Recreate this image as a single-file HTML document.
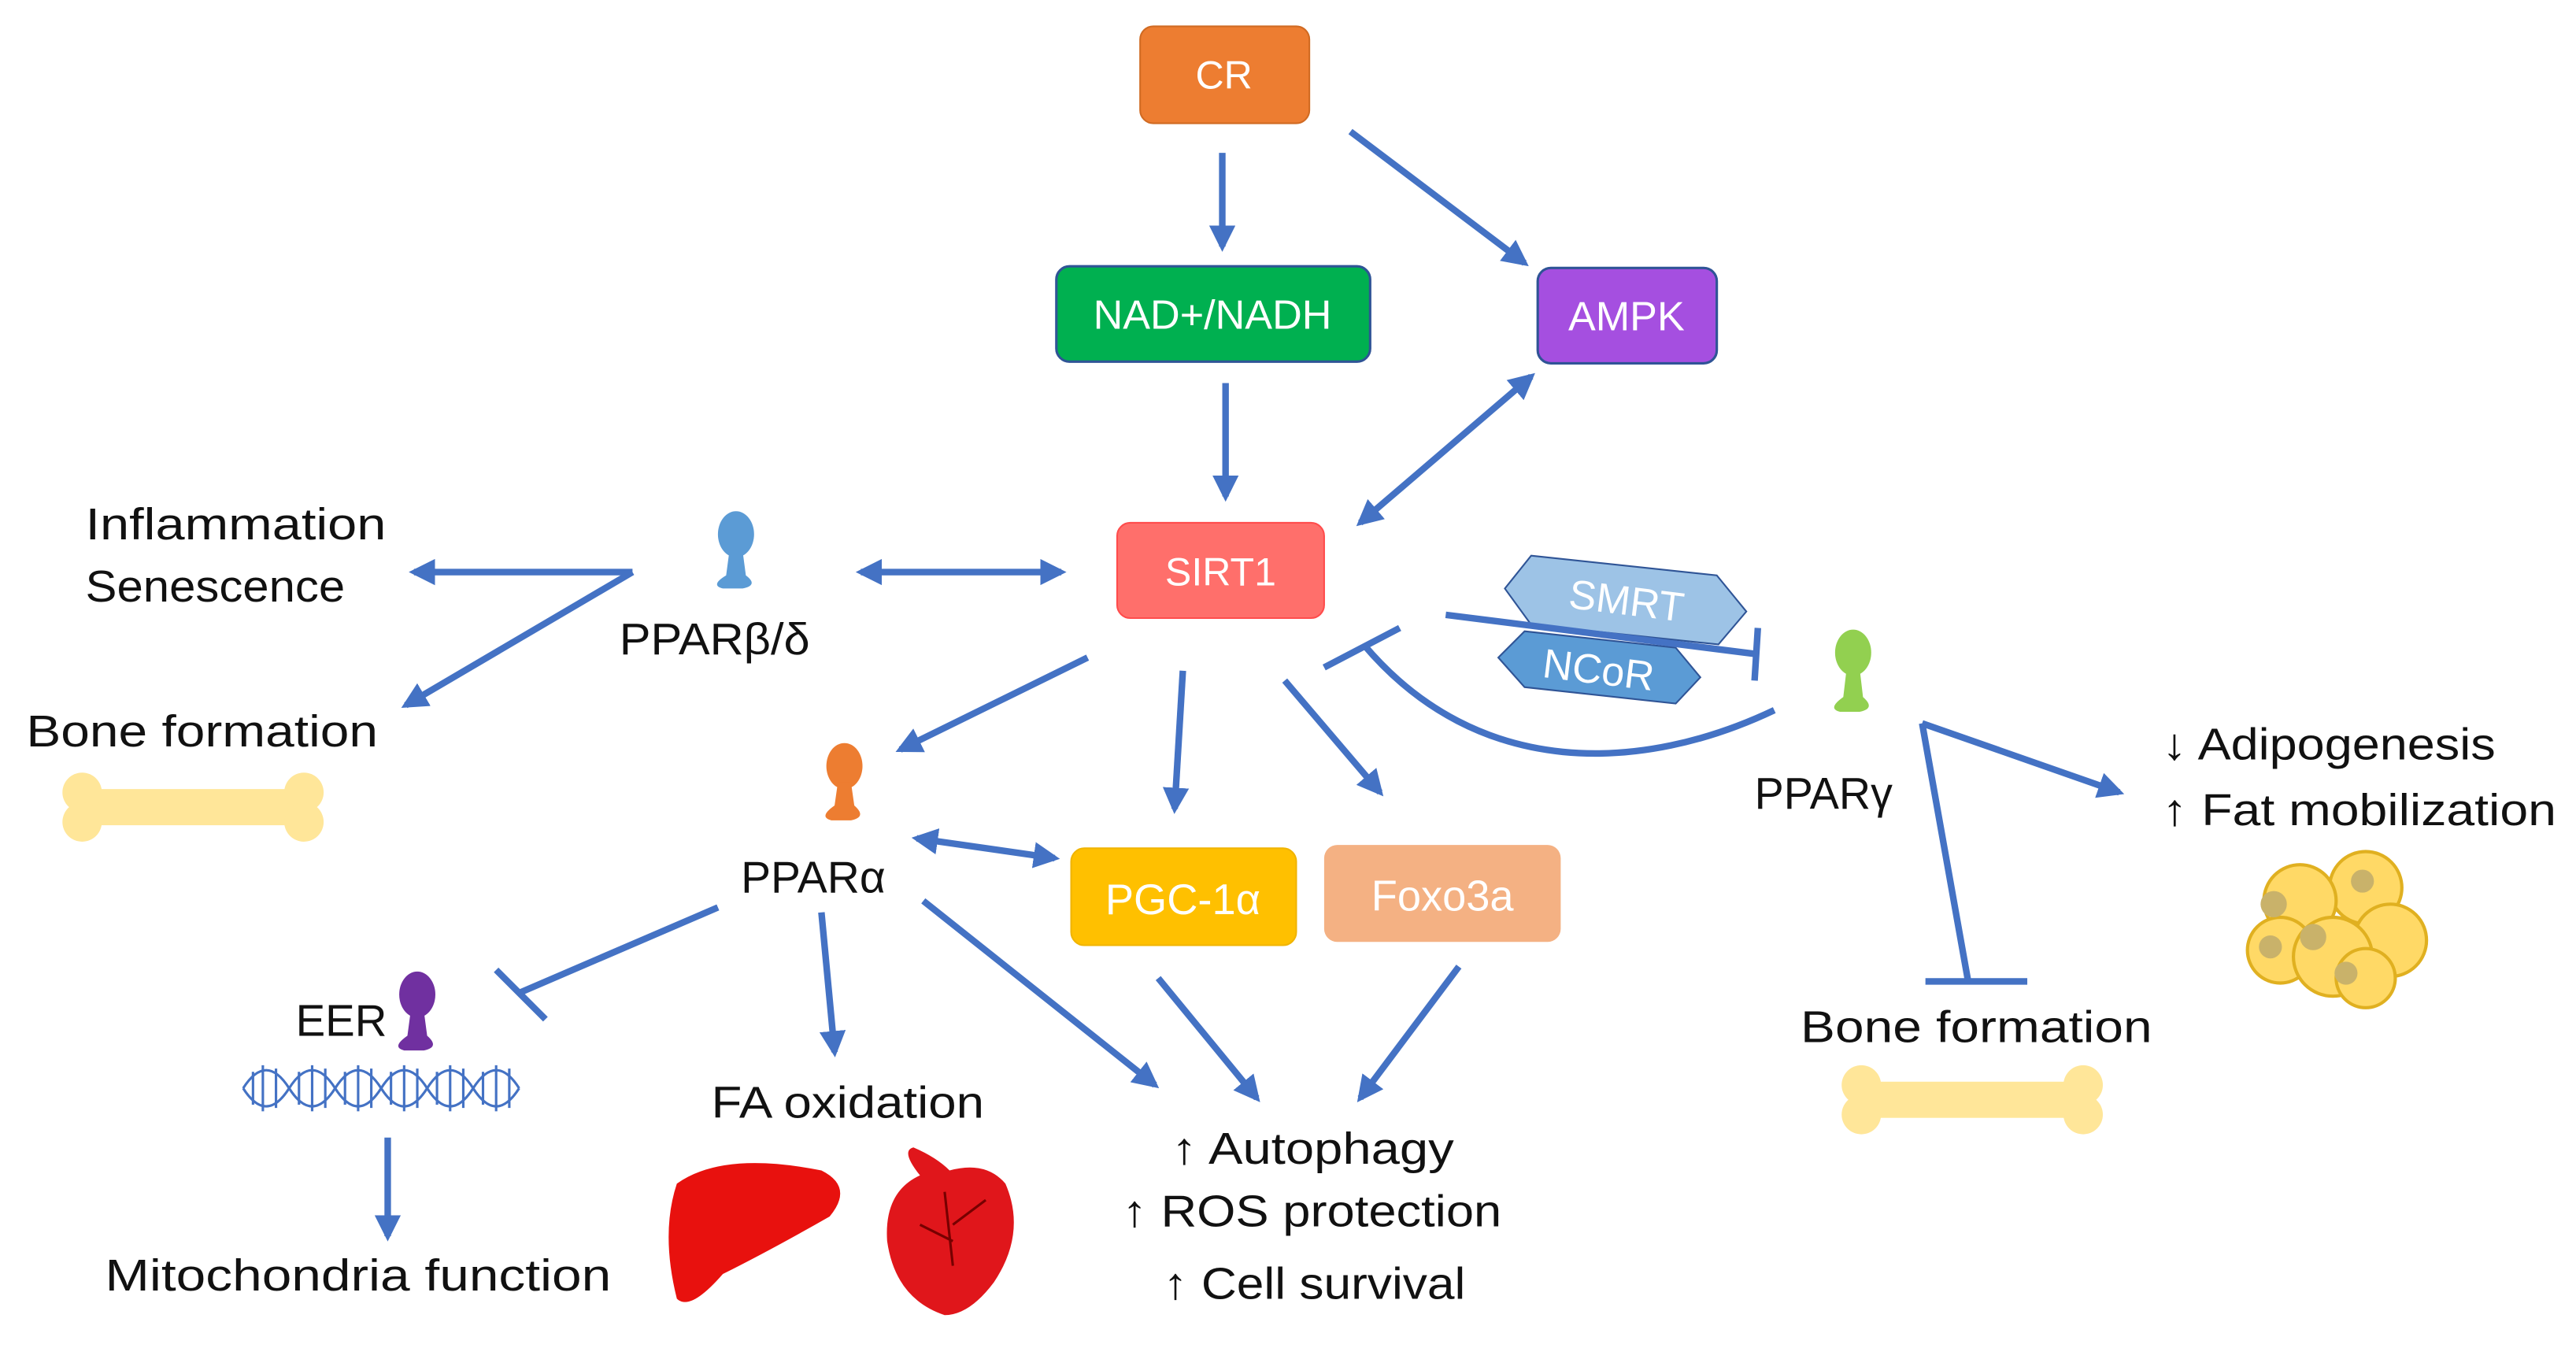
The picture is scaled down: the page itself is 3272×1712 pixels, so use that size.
<!DOCTYPE html>
<html><head><meta charset="utf-8"><style>
html,body{margin:0;padding:0;background:#fff;}
svg{display:block;}
text{font-family:"Liberation Sans",sans-serif;}
</style></head><body>
<svg width="3272" height="1712" viewBox="0 0 1568 820" preserveAspectRatio="none" xmlns="http://www.w3.org/2000/svg">
<defs>
<marker id="a" viewBox="0 0 10 10" refX="8" refY="5" markerWidth="4" markerHeight="4" orient="auto-start-reverse"><path d="M0,0 L10,5 L0,10 z" fill="#4472C4"/></marker>
</defs>
<g stroke="#4472C4" stroke-width="4" fill="none">
<line x1="744" y1="93" x2="744" y2="150" marker-end="url(#a)"/>
<line x1="822" y1="80" x2="928" y2="160" marker-end="url(#a)"/>
<line x1="746" y1="233" x2="746" y2="302" marker-end="url(#a)"/>
<line x1="828" y1="318" x2="932" y2="229" marker-end="url(#a)" marker-start="url(#a)"/>
<line x1="524" y1="348" x2="646" y2="348" marker-end="url(#a)" marker-start="url(#a)"/>
<line x1="385" y1="348" x2="252" y2="348" marker-end="url(#a)"/>
<line x1="385" y1="348" x2="247" y2="429" marker-end="url(#a)"/>
<line x1="662" y1="400" x2="548" y2="456" marker-end="url(#a)"/>
<line x1="720" y1="408" x2="715" y2="492" marker-end="url(#a)"/>
<line x1="782" y1="414" x2="840" y2="482" marker-end="url(#a)"/>
<line x1="1070" y1="382" x2="1068" y2="414"/>
<path d="M1080,432 C1000,470 900,475 830,392"/>
<line x1="806" y1="406" x2="852" y2="382"/>
<line x1="1170" y1="440" x2="1198" y2="597"/>
<line x1="1170" y1="440" x2="1290" y2="482" marker-end="url(#a)"/>
<line x1="1172" y1="597" x2="1234" y2="597"/>
<line x1="558" y1="510" x2="642" y2="522" marker-end="url(#a)" marker-start="url(#a)"/>
<line x1="437" y1="552" x2="316" y2="604"/>
<line x1="302" y1="590" x2="332" y2="620"/>
<line x1="500" y1="555" x2="508" y2="640" marker-end="url(#a)"/>
<line x1="562" y1="548" x2="703" y2="660" marker-end="url(#a)"/>
<line x1="705" y1="595" x2="765" y2="668" marker-end="url(#a)"/>
<line x1="888" y1="588" x2="828" y2="668" marker-end="url(#a)"/>
<line x1="236" y1="692" x2="236" y2="752" marker-end="url(#a)"/>
</g>
<rect x="694" y="16" width="103" height="59" rx="8" fill="#ED7D31" stroke="#d06a22"/>
<text x="745" y="54" font-size="24" fill="#fff" text-anchor="middle">CR</text>
<rect x="643" y="162" width="191" height="58" rx="8" fill="#00B050" stroke="#2f5496" stroke-width="1.5"/>
<text x="738" y="200" font-size="25" fill="#fff" text-anchor="middle">NAD+/NADH</text>
<rect x="936" y="163" width="109" height="58" rx="8" fill="#A54FE0" stroke="#2f5496" stroke-width="1.5"/>
<text x="990" y="201" font-size="25" fill="#fff" text-anchor="middle">AMPK</text>
<rect x="680" y="318" width="126" height="58" rx="8" fill="#FF6F6B" stroke="#ff4c4c"/>
<text x="743" y="356" font-size="24" fill="#fff" text-anchor="middle">SIRT1</text>
<rect x="652" y="516" width="137" height="59" rx="8" fill="#FFC000" stroke="#f0b400"/>
<text x="720" y="556" font-size="26" fill="#fff" text-anchor="middle">PGC-1α</text>
<rect x="806" y="514" width="144" height="59" rx="8" fill="#F4B183"/>
<text x="878" y="554" font-size="26" fill="#fff" text-anchor="middle">Foxo3a</text>
<polygon points="932,338 1045,350 1063,372 1046,392 932,380 916,358" fill="#9DC3E6" stroke="#2f5496" stroke-width="1"/>
<text x="990" y="374" font-size="25" fill="#fff" text-anchor="middle" transform="rotate(7 990 366)">SMRT</text>
<polygon points="928,384 1020,394 1035,412 1020,428 928,418 912,400" fill="#5B9BD5" stroke="#2f5496" stroke-width="1"/>
<text x="973" y="416" font-size="25" fill="#fff" text-anchor="middle" transform="rotate(7 973 408)">NCoR</text>
<line x1="880" y1="374" x2="1070" y2="398" stroke="#4472C4" stroke-width="4"/>
<g>
<ellipse cx="448" cy="325" rx="11" ry="14" fill="#5B9BD5"/><path d="M444,335 L452,335 L454,350 Q462,356 452,358 L440,358 Q432,356 442,350 Z" fill="#5B9BD5"/>
<ellipse cx="514" cy="466" rx="11" ry="14" fill="#ED7D31"/><path d="M510,476 L518,476 L520,490 Q528,497 518,499 L506,499 Q498,497 508,490 Z" fill="#ED7D31"/>
<ellipse cx="254" cy="605" rx="11" ry="14" fill="#7030A0"/><path d="M250,615 L258,615 L260,630 Q268,637 258,639 L246,639 Q238,637 248,630 Z" fill="#7030A0"/>
<ellipse cx="1128" cy="397" rx="11" ry="14" fill="#92D050"/><path d="M1124,407 L1132,407 L1134,424 Q1142,431 1132,433 L1120,433 Q1112,431 1122,424 Z" fill="#92D050"/>
</g>
<g fill="#FFE699">
<rect x="55" y="480" width="125" height="22"/>
<circle cx="50" cy="482" r="12"/><circle cx="50" cy="500" r="12"/><circle cx="185" cy="482" r="12"/><circle cx="185" cy="500" r="12"/>
<rect x="1137" y="658" width="128" height="22"/>
<circle cx="1133" cy="660" r="12"/><circle cx="1133" cy="678" r="12"/><circle cx="1268" cy="660" r="12"/><circle cx="1268" cy="678" r="12"/>
</g>
<g fill="#FFD966" stroke="#E0B020" stroke-width="2">
<circle cx="1440" cy="540" r="22"/><circle cx="1400" cy="548" r="22"/><circle cx="1455" cy="572" r="22"/><circle cx="1388" cy="578" r="20"/><circle cx="1420" cy="582" r="24"/><circle cx="1440" cy="595" r="18"/>
</g>
<g fill="#C9B26A"><circle cx="1384" cy="550" r="8"/><circle cx="1408" cy="570" r="8"/><circle cx="1438" cy="536" r="7"/><circle cx="1382" cy="576" r="7"/><circle cx="1428" cy="592" r="7"/></g>
<g stroke="#4472C4" stroke-width="1.5" fill="none">
<path d="M148,662 Q162,640 176,662 T204,662 T232,662 T260,662 T288,662 T316,662"/>
<path d="M148,662 Q162,684 176,662 T204,662 T232,662 T260,662 T288,662 T316,662"/>
<path d="M154,652v20M160,648v28M168,650v24M182,652v20M190,648v28M198,650v24M210,652v20M218,648v28M226,650v24M238,652v20M246,648v28M254,650v24M266,652v20M274,648v28M282,650v24M294,652v20M302,648v28M310,650v24"/>
</g>
<path d="M412,720 Q440,700 500,712 Q520,722 505,740 Q470,760 440,775 Q420,798 412,790 Q402,750 412,720 Z" fill="#E8110E"/>
<path d="M560,715 Q548,700 556,698 Q570,704 578,712 Q600,706 612,720 Q625,750 605,780 Q590,800 575,800 Q545,790 540,755 Q538,725 560,715 Z" fill="#E0161B"/>
<path d="M575,725 L580,770 M580,745 L600,730 M580,755 L560,745" stroke="#700" stroke-width="1.5" fill="none"/>
<g font-size="27" fill="#111">
<text x="52" y="328" textLength="183" lengthAdjust="spacingAndGlyphs">Inflammation</text>
<text x="52" y="366" textLength="158" lengthAdjust="spacingAndGlyphs">Senescence</text>
<text x="377" y="398" textLength="116" lengthAdjust="spacingAndGlyphs">PPARβ/δ</text>
<text x="16" y="454" textLength="214" lengthAdjust="spacingAndGlyphs">Bone formation</text>
<text x="451" y="543" textLength="88" lengthAdjust="spacingAndGlyphs">PPARα</text>
<text x="180" y="630">EER</text>
<text x="433" y="680" textLength="166" lengthAdjust="spacingAndGlyphs">FA oxidation</text>
<text x="64" y="785" textLength="308" lengthAdjust="spacingAndGlyphs">Mitochondria function</text>
<text x="713" y="708" textLength="172" lengthAdjust="spacingAndGlyphs">↑ Autophagy</text>
<text x="683" y="746" textLength="231" lengthAdjust="spacingAndGlyphs">↑ ROS protection</text>
<text x="708" y="790" textLength="184" lengthAdjust="spacingAndGlyphs">↑ Cell survival</text>
<text x="1068" y="492" textLength="84" lengthAdjust="spacingAndGlyphs">PPARγ</text>
<text x="1096" y="634" textLength="214" lengthAdjust="spacingAndGlyphs">Bone formation</text>
<text x="1316" y="462" textLength="203" lengthAdjust="spacingAndGlyphs">↓ Adipogenesis</text>
<text x="1316" y="502" textLength="240" lengthAdjust="spacingAndGlyphs">↑ Fat mobilization</text>
</g>
</svg>
</body></html>
